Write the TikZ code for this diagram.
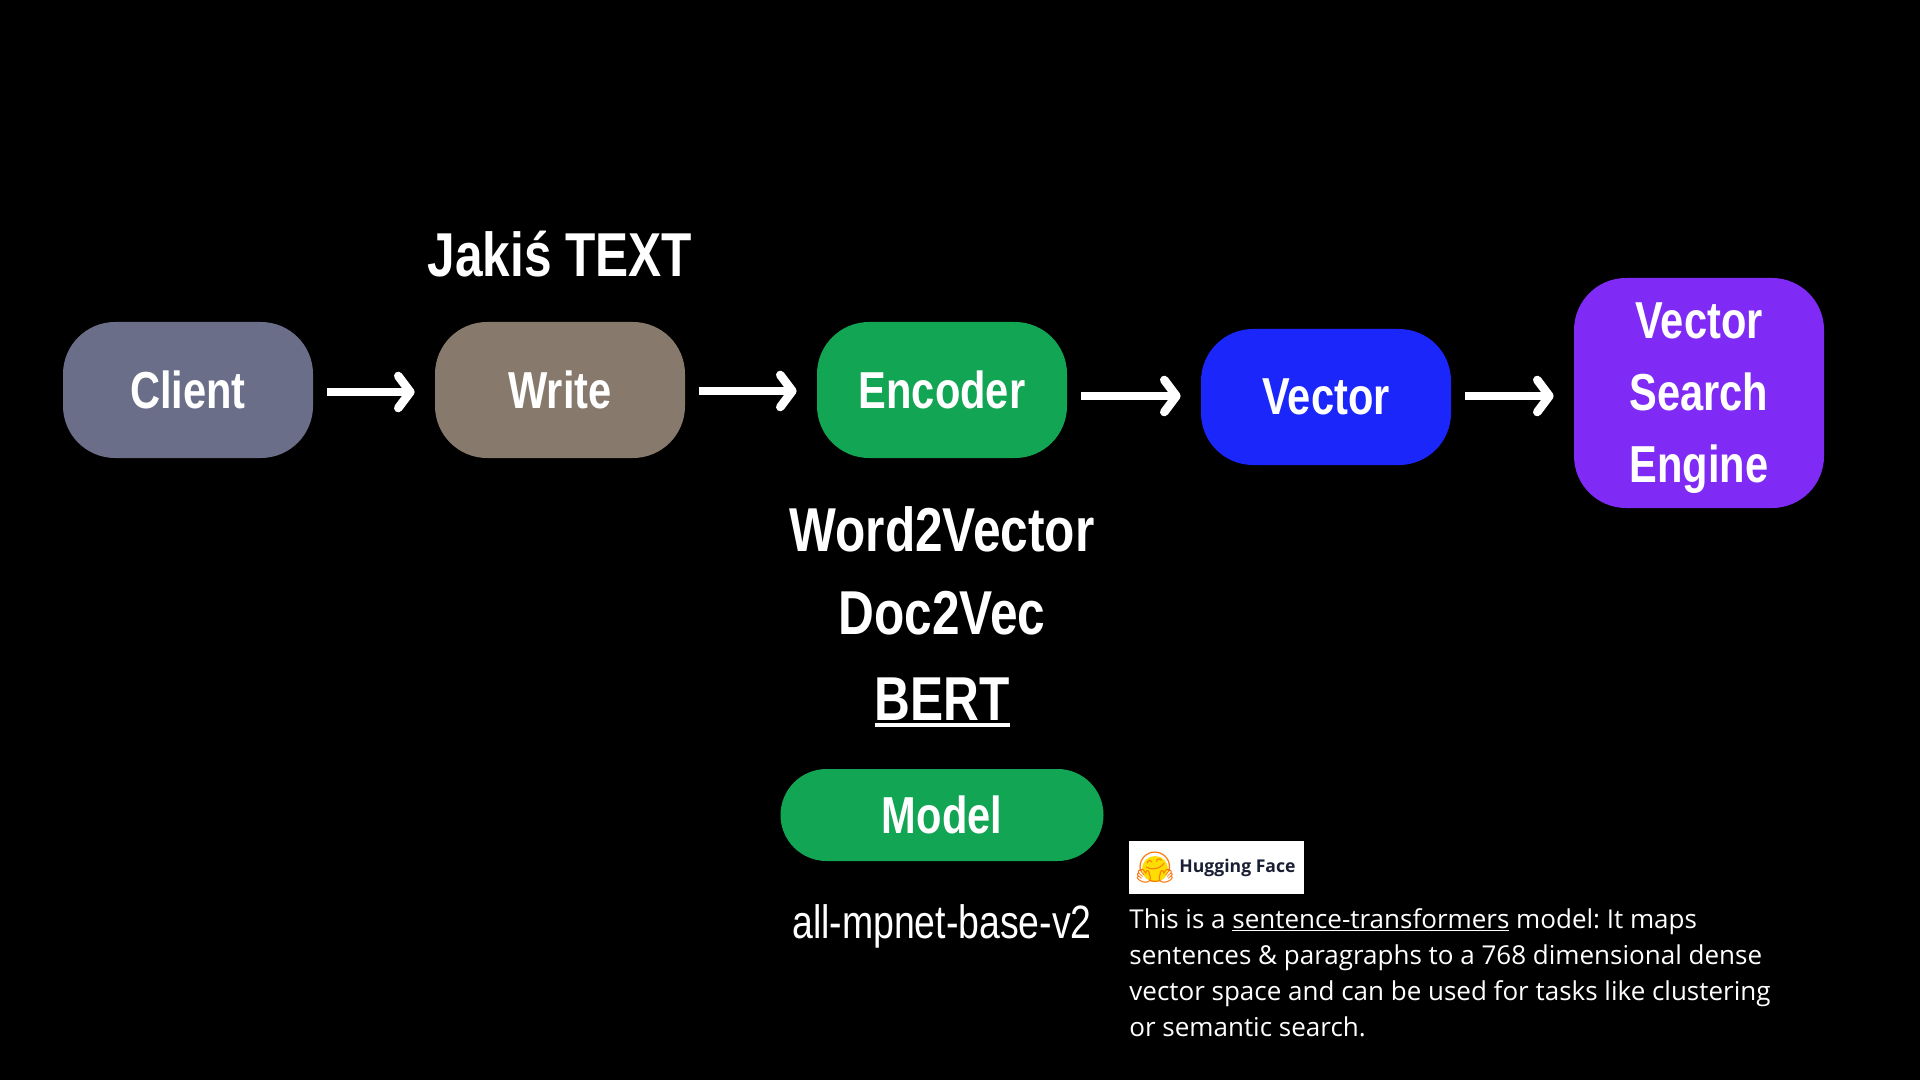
\documentclass[tikz,border=0pt]{standalone}
\usepackage{fontspec}
\usetikzlibrary{arrows.meta}
\newfontfamily\cond{Liberation Sans}[FakeStretch=0.8]
\newfontfamily\osans{Open Sans}
\newfontfamily\emojifont{Noto Emoji}
\definecolor{cclient}{HTML}{6B6E88}
\definecolor{cwrite}{HTML}{877A6D}
\definecolor{cgreen}{HTML}{12A553}
\definecolor{cvector}{HTML}{1A26FA}
\definecolor{cengine}{HTML}{7F2BF5}
\definecolor{chf}{HTML}{1A1F36}
\frenchspacing
% sottolineatura: profondita, spessore, testo
\newcommand{\sotto}[3]{{\setbox0\hbox{#3}\rlap{\rule[\dimexpr-#1-#2\relax]{\wd0}{#2}}\box0}}
\tikzset{
  box/.style={rounded corners=26pt, text=white, align=center, inner sep=0pt,
    minimum width=125pt, minimum height=68pt,
    font=\cond\bfseries\fontsize{26pt}{36pt}\selectfont},
  titolo/.style={text=white, anchor=base, inner sep=0pt,
    font=\cond\bfseries\fontsize{31pt}{36pt}\selectfont},
  freccia/.style={white, line width=4.3pt,
    -{Straight Barb[length=6pt,width=16pt,round]},
    shorten <=7pt, shorten >=10pt},
}
\begin{document}
\begin{tikzpicture}[x=0.5pt,y=-0.5pt]
        % Sfondo
        \fill[black] (0,0) rectangle (1920,1080);
        \useasboundingbox (0,0) rectangle (1920,1080);

        % Nodi della catena, in fila
        \node[box, fill=cclient](client) at (188,390) {Client};
        \node[box, fill=cwrite](write) at (560,390) {Write};
        \node[box, fill=cgreen](encoder) at (942,390) {Encoder};
        \node[box, fill=cvector](vector) at (1326,397) {Vector};
        \node[box, fill=cengine, minimum height=115pt, text depth=0pt](engine) at (1699,393) {Vector\\Search\\Engine};

        % Testi
        \node[titolo](jakis) at (560,277) {Jakiś TEXT};
        \node[titolo](w2v) at (942,551) {Word2Vector};
        \node[titolo](d2v) at (942,634) {Doc2Vec};
        \node[titolo](bert) at (942,720) {\sotto{1.5pt}{2pt}{BERT}};

        % Modello
        \node[box, fill=cgreen, minimum width=161.5pt, minimum height=46pt, rounded corners=23pt](model) at (942,815) {Model};
        \node[text=white, anchor=base, inner sep=0pt, font=\cond\fontsize{23.4pt}{28pt}\selectfont](mpnet) at (942,938) {all-mpnet-base-v2};

        % Hugging Face
        \node[fill=white, minimum width=87.5pt, minimum height=26.5pt, inner sep=0pt](hf) at (1216.5,867.5) {};
        \fill[yellow!80!orange] (1155,869) circle (13);
        \node[text=orange!90!red, inner sep=0pt, font=\emojifont\fontsize{15pt}{15pt}\selectfont](hug) at (1155,868) {🤗};
        \node[text=chf, anchor=west, inner sep=0pt, font=\osans\bfseries\fontsize{8.8pt}{10pt}\selectfont](hfname) at (1179,868) {Hugging Face};
        \node[text=white, anchor=north west, align=left, inner sep=0pt, font=\osans\fontsize{13pt}{18pt}\selectfont](descr) at (1129,908)
          {This is a \sotto{0.8pt}{0.7pt}{sentence-transformers} model: It maps\\
           sentences \& paragraphs to a 768 dimensional dense\\
           vector space and can be used for tasks like clustering\\
           or semantic search.};

        % Frecce
        \draw[freccia] (client.east |- 0,392) -- (write.west |- 0,392);
        \draw[freccia] (write.east |- 0,391) -- (encoder.west |- 0,391);
        \draw[freccia] (encoder.east |- 0,396) -- (vector.west |- 0,396);
        \draw[freccia] (vector.east |- 0,396) -- (engine.west |- 0,396);
    \end{tikzpicture}
\end{document}
